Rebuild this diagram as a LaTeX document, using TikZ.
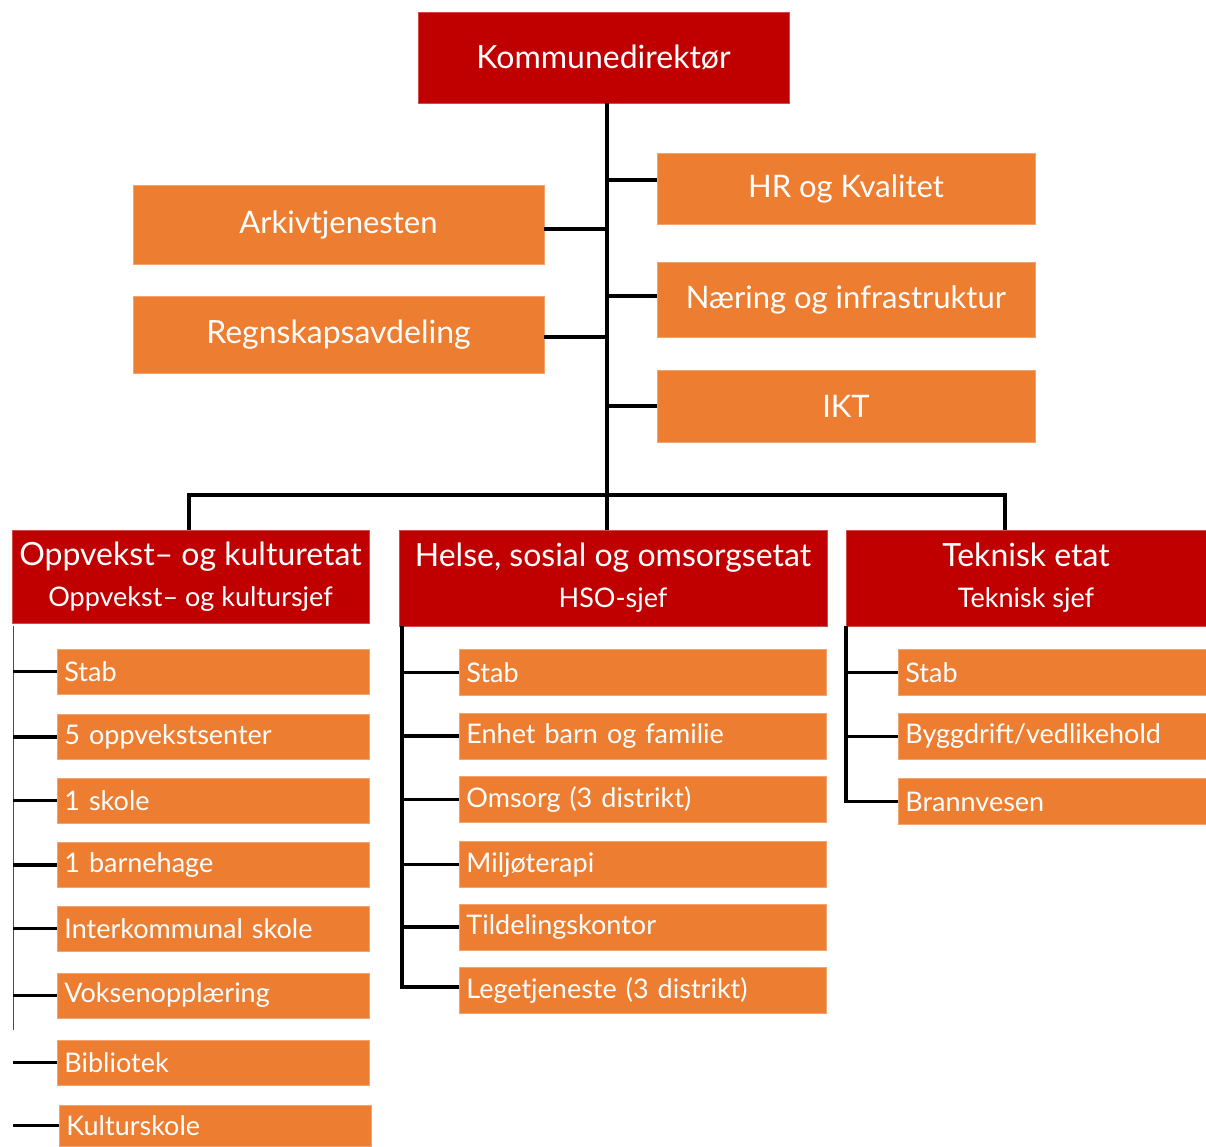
\documentclass[tikz,border=0pt]{standalone}
\usepackage{fontspec}
\setmainfont{Lato}
\definecolor{kred}{HTML}{C00000}
\definecolor{korange}{HTML}{ED7D31}
\tikzset{
  redbox/.style={fill=kred, draw=kred!70!white, line width=0.8pt, text=white, inner sep=0pt, align=center},
  dept/.style={redbox, font=\fontsize{32}{41}\selectfont},
  obox/.style={fill=korange, draw=korange!70!white, line width=0.8pt, text=white, inner sep=0pt, align=center,
     font=\fontsize{31}{35}\selectfont},
  cbox/.style={fill=korange, draw=korange!70!white, line width=0.8pt, text=white, inner xsep=7pt, inner ysep=0pt, align=left,
     font=\fontsize{27}{31}\selectfont},
  conn/.style={draw=black, line width=3.6pt},
  thin/.style={draw=black!70, line width=1pt},
}
\newcommand{\subt}[1]{{\fontsize{27}{41}\selectfont #1}}
\begin{document}
\begin{tikzpicture}[x=1pt,y=-1pt]
\useasboundingbox[fill=white] (0,0) rectangle (1206,1146);

% top
\node[redbox, minimum width=371, minimum height=91, font=\fontsize{32}{36}\selectfont] (kd) at (603.5,57.5) {Kommunedirektør};
\node[obox, minimum width=378, minimum height=71] (hr) at (846,188.5) {HR og Kvalitet};
\node[obox, minimum width=378, minimum height=75] (nae) at (846,299.5) {Næring og infrastruktur};
\node[obox, minimum width=378, minimum height=72] (ikt) at (846,406) {IKT};
\node[obox, minimum width=411, minimum height=79] (ark) at (338.5,224.5) {Arkivtjenesten};
\node[obox, minimum width=411, minimum height=77, font=\fontsize{32}{36}\selectfont] (reg) at (338.5,334.5) {Regnskapsavdeling};

% departments
\node[dept, minimum width=357, minimum height=93] (ov) at (190.5,576.5)
  {Oppvekst– og kulturetat\\\subt{Oppvekst– og kultursjef}};
\node[dept, minimum width=428, minimum height=96] (hl) at (613,578)
  {Helse, sosial og omsorgsetat\\\subt{HSO-sjef}};
\node[dept, minimum width=360, minimum height=96] (tk) at (1026,578)
  {Teknisk etat\\\subt{Teknisk sjef}};

% trunk
\coordinate (tr) at (607,103);
\coordinate (bar) at (607,495);
\draw[conn] (kd.south -| tr) -- (hl.north -| tr);
\draw[conn] ([yshift=8.5pt]hr.west) -- ([yshift=8.5pt]hr.west -| tr);
\draw[conn] ([yshift=3.5pt]nae.west) -- ([yshift=3.5pt]nae.west -| tr);
\draw[conn] (ikt.west) -- (ikt.west -| tr);
\draw[conn] ([yshift=-4.5pt]ark.east) -- ([yshift=-4.5pt]ark.east -| tr);
\draw[conn] ([yshift=-2.5pt]reg.east) -- ([yshift=-2.5pt]reg.east -| tr);
\draw[conn] ([xshift=-1.5pt]ov.north) |- (bar) -| ([xshift=-21pt]tk.north);

% Oppvekst children
\foreach \n/\y/\t in {o1/671.5/{Stab}, o2/737/{5 oppvekstsenter}, o3/800.5/{1 skole}, o4/865/{1 barnehage},
  o5/928.5/{Interkommunal skole}, o6/995.5/{Voksenopplæring}, o7/1062.5/{Bibliotek}}{
  \node[cbox, minimum width=312, minimum height=45, text width=298, anchor=west] (\n) at (57,\y) {\t};
}
\node[cbox, minimum width=312, minimum height=41, text width=298, anchor=west] (o8) at (59,1125.5) {Kulturskole};
\coordinate (ol) at (13,626);
\draw[thin] (ol) -- (13,1030);
\foreach \n in {o1,o2,o3,o4,o5,o6,o7,o8}{
  \draw[conn] (ol |- \n.west) -- (\n.west);
}

% Helse children
\foreach \n/\y/\t in {h1/672.5/{Stab}, h2/736/{Enhet barn og familie}, h3/799.5/{Omsorg (3 distrikt)},
  h4/864.5/{Miljøterapi}, h5/927/{Tildelingskontor}, h6/990.5/{Legetjeneste (3 distrikt)}}{
  \node[cbox, minimum width=367, minimum height=46, text width=353, anchor=west] (\n) at (459,\y) {\t};
}
\coordinate (hv) at (402,626);
\draw[conn] (hv) |- ([yshift=3.5pt]h6.west);
\foreach \n in {h1,h2,h3,h4,h5}{
  \draw[conn] (hv |- \n.west) -- (\n.west);
}

% Teknisk children
\foreach \n/\y/\t in {t1/672.5/{Stab}, t2/736.5/{Byggdrift/vedlikehold}, t3/801.5/{Brannvesen}}{
  \node[cbox, minimum width=308, minimum height=46, text width=294, anchor=west] (\n) at (898,\y) {\t};
}
\coordinate (tv) at (846,626);
\draw[conn] (tv) |- (t3.west);
\foreach \n in {t1,t2}{
  \draw[conn] (tv |- \n.west) -- (\n.west);
}
\end{tikzpicture}
\end{document}
